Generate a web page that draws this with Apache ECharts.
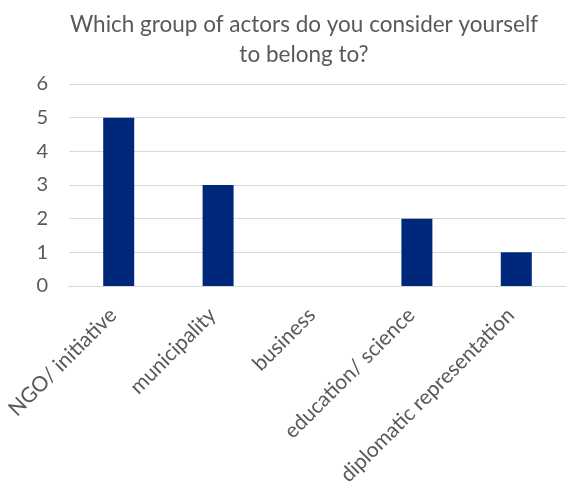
<!DOCTYPE html>
<html>
<head>
<meta charset="utf-8">
<script src="https://cdn.jsdelivr.net/npm/echarts@6/dist/echarts.min.js"></script>
<style>html,body{margin:0;padding:0;background:#fff}#c{width:566px;height:502px}</style>
</head>
<body>
<div id="c"></div>
<script>
const titleText = "Which group of actors do you consider yourself\nto belong to?";
const categories = ["NGO/ initiative", "municipality", "business", "education/ science", "diplomatic representation"];
const values = [5, 3, 0, 2, 1];
const yTicks = [0, 1, 2, 3, 4, 5, 6];

const chart = echarts.init(document.getElementById('c'), null, {renderer: 'canvas'});
chart.setOption({
  animation: false,
  backgroundColor: '#ffffff',
  title: {
    text: titleText,
    left: 299, textAlign: 'center', top: 5,
    textStyle: {fontFamily: 'Lato', fontSize: 22.5, fontWeight: 'normal', color: '#595959', lineHeight: 30}
  },
  grid: {left: 69, right: -4, top: 84, bottom: 216, containLabel: false},
  xAxis: {
    type: 'category', data: categories,
    axisLine: {show: true, lineStyle: {color: '#D9D9D9', width: 1}},
    axisTick: {show: false},
    axisLabel: {rotate: 45, interval: 0, margin: 20, padding: [0, 8, 0, 0], fontFamily: 'Lato', fontSize: 21, color: '#595959'}
  },
  yAxis: {
    type: 'value', min: yTicks[0], max: yTicks[yTicks.length - 1], interval: 1,
    axisLine: {show: false}, axisTick: {show: false},
    splitLine: {lineStyle: {color: '#D9D9D9', width: 1}},
    axisLabel: {margin: 21, fontFamily: 'Lato', fontSize: 20, color: '#595959'}
  },
  series: [{
    type: 'bar', data: values, barWidth: 31,
    itemStyle: {color: '#00287A'}
  }]
});
</script>
</body>
</html>
